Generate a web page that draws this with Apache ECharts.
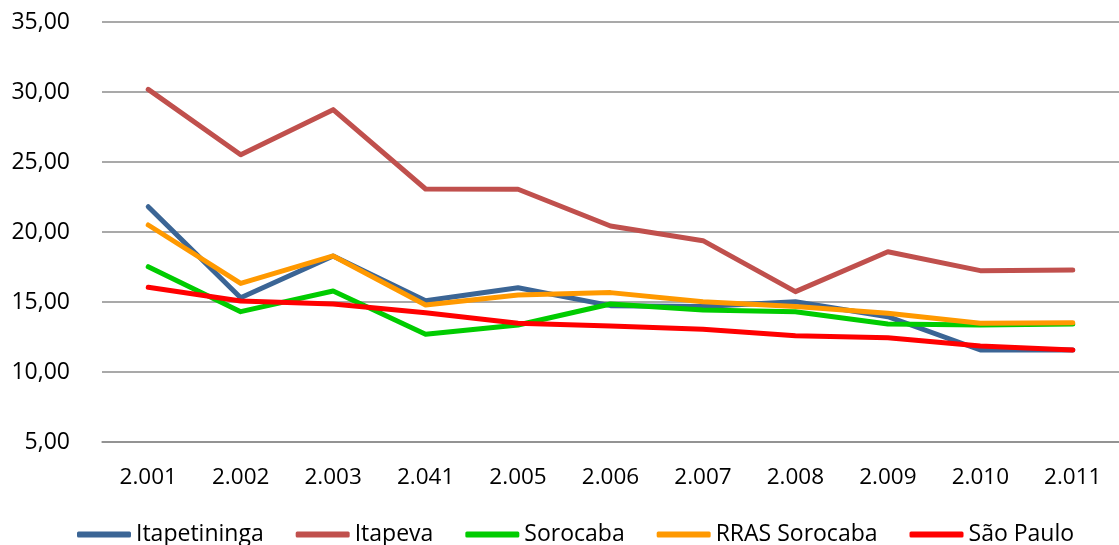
<!DOCTYPE html>
<html>
<head>
<meta charset="utf-8">
<script src="https://cdn.jsdelivr.net/npm/echarts@6/dist/echarts.min.js"></script>
<style>
  html, body { margin: 0; padding: 0; background: #fff; }
  #chart { width: 1119px; height: 545px; }
</style>
</head>
<body>
<div id="chart"></div>
<script>
const categories = ['2.001', '2.002', '2.003', '2.041', '2.005', '2.006', '2.007', '2.008', '2.009', '2.010', '2.011'];

const itapetininga = [21.81, 15.31, 18.29, 15.09, 16.02, 14.74, 14.67, 15.02, 13.95, 11.57, 11.57];
const itapeva      = [30.19, 25.52, 28.74, 23.07, 23.05, 20.43, 19.38, 15.74, 18.59, 17.24, 17.29];
const sorocaba     = [17.52, 14.31, 15.79, 12.69, 13.36, 14.86, 14.43, 14.31, 13.43, 13.36, 13.43];
const rrasSorocaba = [20.50, 16.33, 18.29, 14.79, 15.50, 15.67, 15.02, 14.67, 14.19, 13.48, 13.52];
const saoPaulo     = [16.05, 15.07, 14.86, 14.24, 13.48, 13.29, 13.05, 12.59, 12.45, 11.86, 11.57];

const yMin = 5, yMax = 35, yStep = 5;

const chart = echarts.init(document.getElementById('chart'));
const font = '"Open Sans", Lato, sans-serif';

function line(name, data, color) {
  return {
    name: name,
    type: 'line',
    data: data,
    showSymbol: false,
    symbol: 'none',
    color: color,
    lineStyle: { width: 5, color: color, cap: 'round', join: 'round' }
  };
}

chart.setOption({
  animation: false,
  textStyle: { fontFamily: font, color: '#000' },
  grid: { left: 102, top: 22, width: 1028, height: 420, containLabel: false },
  legend: {
    bottom: -6,
    left: 72,
    icon: 'roundRect',
    itemWidth: 54,
    itemHeight: 6,
    itemGap: 32,
    textStyle: { fontSize: 23, color: '#000', fontFamily: font },
    data: ['Itapetininga', 'Itapeva', 'Sorocaba', 'RRAS Sorocaba', 'São Paulo']
  },
  xAxis: {
    type: 'category',
    data: categories,
    boundaryGap: true,
    axisLine: { show: true, lineStyle: { color: '#8c8c8c', width: 1.5 } },
    axisTick: { show: false },
    axisLabel: { fontSize: 22.5, color: '#000', margin: 24, fontFamily: font }
  },
  yAxis: {
    type: 'value',
    min: yMin,
    max: yMax,
    interval: yStep,
    axisLine: { show: false },
    axisTick: { show: false },
    splitLine: { lineStyle: { color: '#8c8c8c', width: 1.5 } },
    axisLabel: {
      fontSize: 23, color: '#000', margin: 32, fontFamily: font,
      formatter: v => v.toFixed(2).replace('.', ',')
    }
  },
  series: [
    line('Itapetininga', itapetininga, '#3b6595'),
    line('Itapeva', itapeva, '#c0504d'),
    line('Sorocaba', sorocaba, '#00cc00'),
    line('RRAS Sorocaba', rrasSorocaba, '#ff9900'),
    line('São Paulo', saoPaulo, '#ff0000')
  ]
});
</script>
</body>
</html>
